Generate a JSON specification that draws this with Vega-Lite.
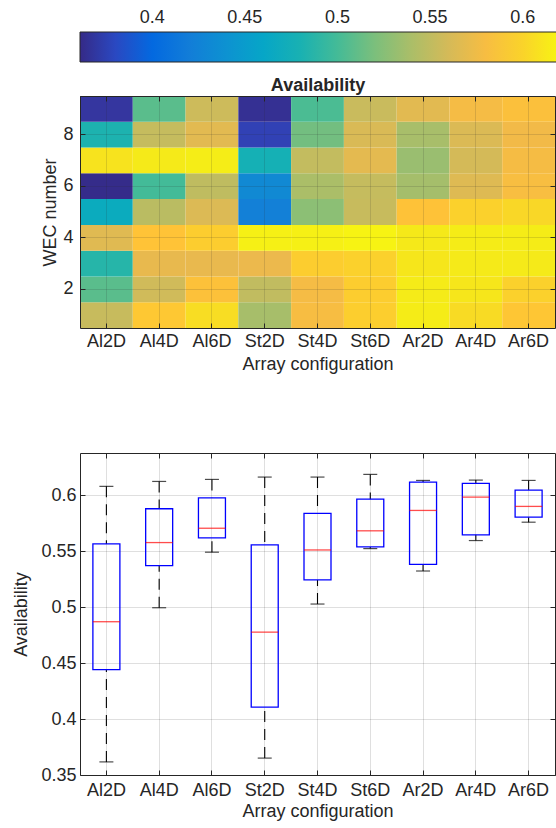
{
  "$schema": "https://vega.github.io/schema/vega-lite/v6.json",
  "padding": {"left": 12, "top": 32, "right": 0, "bottom": 5},
  "background": "white",
  "spacing": 79,
  "config": {
    "font": "Liberation Sans",
    "view": {"stroke": null},
    "axis": {
      "labelFont": "Liberation Sans", "titleFont": "Liberation Sans",
      "labelFontSize": 18, "titleFontSize": 18,
      "labelColor": "#262626", "titleColor": "#262626", "titleFontWeight": "normal",
      "domainColor": "#262626", "tickColor": "#262626", "domainWidth": 1, "tickWidth": 1,
      "gridColor": "#262626", "gridOpacity": 0.15, "gridWidth": 1
    }
  },
  "datasets": {
    "heat": [
      {"config": "Al2D", "wec": 1, "availability": 0.553}, {"config": "Al2D", "wec": 2, "availability": 0.508}, {"config": "Al2D", "wec": 3, "availability": 0.487},
      {"config": "Al2D", "wec": 4, "availability": 0.566}, {"config": "Al2D", "wec": 5, "availability": 0.469}, {"config": "Al2D", "wec": 6, "availability": 0.362},
      {"config": "Al2D", "wec": 7, "availability": 0.608}, {"config": "Al2D", "wec": 8, "availability": 0.482}, {"config": "Al2D", "wec": 9, "availability": 0.369},
      {"config": "Al4D", "wec": 1, "availability": 0.591}, {"config": "Al4D", "wec": 2, "availability": 0.5576}, {"config": "Al4D", "wec": 3, "availability": 0.570},
      {"config": "Al4D", "wec": 4, "availability": 0.587}, {"config": "Al4D", "wec": 5, "availability": 0.547}, {"config": "Al4D", "wec": 6, "availability": 0.4995},
      {"config": "Al4D", "wec": 7, "availability": 0.612}, {"config": "Al4D", "wec": 8, "availability": 0.552}, {"config": "Al4D", "wec": 9, "availability": 0.508},
      {"config": "Al6D", "wec": 1, "availability": 0.605}, {"config": "Al6D", "wec": 2, "availability": 0.585}, {"config": "Al6D", "wec": 3, "availability": 0.5704},
      {"config": "Al6D", "wec": 4, "availability": 0.595}, {"config": "Al6D", "wec": 5, "availability": 0.5637}, {"config": "Al6D", "wec": 6, "availability": 0.549},
      {"config": "Al6D", "wec": 7, "availability": 0.614}, {"config": "Al6D", "wec": 8, "availability": 0.567}, {"config": "Al6D", "wec": 9, "availability": 0.556},
      {"config": "St2D", "wec": 1, "availability": 0.538}, {"config": "St2D", "wec": 2, "availability": 0.550}, {"config": "St2D", "wec": 3, "availability": 0.572},
      {"config": "St2D", "wec": 4, "availability": 0.616}, {"config": "St2D", "wec": 5, "availability": 0.4225}, {"config": "St2D", "wec": 6, "availability": 0.432},
      {"config": "St2D", "wec": 7, "availability": 0.4776}, {"config": "St2D", "wec": 8, "availability": 0.376}, {"config": "St2D", "wec": 9, "availability": 0.365},
      {"config": "St4D", "wec": 1, "availability": 0.580}, {"config": "St4D", "wec": 2, "availability": 0.578}, {"config": "St4D", "wec": 3, "availability": 0.595},
      {"config": "St4D", "wec": 4, "availability": 0.616}, {"config": "St4D", "wec": 5, "availability": 0.5265}, {"config": "St4D", "wec": 6, "availability": 0.540},
      {"config": "St4D", "wec": 7, "availability": 0.551}, {"config": "St4D", "wec": 8, "availability": 0.517}, {"config": "St4D", "wec": 9, "availability": 0.5027},
      {"config": "St6D", "wec": 1, "availability": 0.596}, {"config": "St6D", "wec": 2, "availability": 0.595}, {"config": "St6D", "wec": 3, "availability": 0.598},
      {"config": "St6D", "wec": 4, "availability": 0.6185}, {"config": "St6D", "wec": 5, "availability": 0.553}, {"config": "St6D", "wec": 6, "availability": 0.5522},
      {"config": "St6D", "wec": 7, "availability": 0.5681}, {"config": "St6D", "wec": 8, "availability": 0.562}, {"config": "St6D", "wec": 9, "availability": 0.5539},
      {"config": "Ar2D", "wec": 1, "availability": 0.6131}, {"config": "Ar2D", "wec": 2, "availability": 0.6122}, {"config": "Ar2D", "wec": 3, "availability": 0.610},
      {"config": "Ar2D", "wec": 4, "availability": 0.6114}, {"config": "Ar2D", "wec": 5, "availability": 0.5863}, {"config": "Ar2D", "wec": 6, "availability": 0.537},
      {"config": "Ar2D", "wec": 7, "availability": 0.5322}, {"config": "Ar2D", "wec": 8, "availability": 0.5386}, {"config": "Ar2D", "wec": 9, "availability": 0.567},
      {"config": "Ar4D", "wec": 1, "availability": 0.604}, {"config": "Ar4D", "wec": 2, "availability": 0.610}, {"config": "Ar4D", "wec": 3, "availability": 0.6117},
      {"config": "Ar4D", "wec": 4, "availability": 0.6134}, {"config": "Ar4D", "wec": 5, "availability": 0.5982}, {"config": "Ar4D", "wec": 6, "availability": 0.565},
      {"config": "Ar4D", "wec": 7, "availability": 0.5594}, {"config": "Ar4D", "wec": 8, "availability": 0.563}, {"config": "Ar4D", "wec": 9, "availability": 0.578},
      {"config": "Ar6D", "wec": 1, "availability": 0.5899}, {"config": "Ar6D", "wec": 2, "availability": 0.598}, {"config": "Ar6D", "wec": 3, "availability": 0.612},
      {"config": "Ar6D", "wec": 4, "availability": 0.6131}, {"config": "Ar6D", "wec": 5, "availability": 0.602}, {"config": "Ar6D", "wec": 6, "availability": 0.581},
      {"config": "Ar6D", "wec": 7, "availability": 0.5785}, {"config": "Ar6D", "wec": 8, "availability": 0.5758}, {"config": "Ar6D", "wec": 9, "availability": 0.584}
    ],
    "box": [
      {"config": "Al2D", "lower": 0.3617, "q1": 0.4441, "median": 0.4869, "q3": 0.5564, "upper": 0.6078},
      {"config": "Al4D", "lower": 0.4994, "q1": 0.537, "median": 0.5576, "q3": 0.5878, "upper": 0.6122},
      {"config": "Al6D", "lower": 0.549, "q1": 0.5618, "median": 0.5704, "q3": 0.5976, "upper": 0.614},
      {"config": "St2D", "lower": 0.3651, "q1": 0.4107, "median": 0.4776, "q3": 0.5555, "upper": 0.6161},
      {"config": "St4D", "lower": 0.5027, "q1": 0.5242, "median": 0.551, "q3": 0.5836, "upper": 0.6161},
      {"config": "St6D", "lower": 0.5522, "q1": 0.5537, "median": 0.5681, "q3": 0.5964, "upper": 0.6185},
      {"config": "Ar2D", "lower": 0.5322, "q1": 0.5382, "median": 0.5863, "q3": 0.6116, "upper": 0.6131},
      {"config": "Ar4D", "lower": 0.5594, "q1": 0.5645, "median": 0.5982, "q3": 0.6104, "upper": 0.6134},
      {"config": "Ar6D", "lower": 0.5758, "q1": 0.5803, "median": 0.5899, "q3": 0.6045, "upper": 0.6131}
    ]
  },
  "vconcat": [
    {
      "width": 475,
      "height": 232,
      "data": {"name": "heat"},
      "layer": [
        {
          "mark": {"type": "rect"},
          "encoding": {
            "x": {
              "field": "config", "type": "nominal",
              "sort": ["Al2D", "Al4D", "Al6D", "St2D", "St4D", "St6D", "Ar2D", "Ar4D", "Ar6D"],
              "scale": {"paddingInner": 0, "paddingOuter": 0},
              "axis": {"orient": "bottom", "title": "Array configuration", "labelAngle": 0, "tickSize": -5, "labelPadding": 9,
                       "grid": true, "bandPosition": 0.5, "zindex": 1, "titleBaseline": "alphabetic", "titleY": 41}
            },
            "y": {
              "field": "wec", "type": "ordinal", "sort": "descending",
              "scale": {"paddingInner": 0, "paddingOuter": 0},
              "axis": {"orient": "left", "title": "WEC number", "values": [2, 4, 6, 8], "tickSize": -5, "labelPadding": 12,
                       "grid": true, "bandPosition": 0.5, "zindex": 1, "titleBaseline": "alphabetic", "titleX": -25}
            },
            "color": {
              "field": "availability", "type": "quantitative",
              "scale": {
                "type": "linear", "interpolate": "rgb",
                "domain": [0.361, 0.37357, 0.38614, 0.39871, 0.41129, 0.42386, 0.43643, 0.449, 0.46157, 0.47414, 0.48671, 0.49929, 0.51186, 0.52443, 0.537, 0.54957, 0.56214, 0.57471, 0.58729, 0.59986, 0.61243, 0.625],
                "range": ["#352a87", "#353dad", "#2053d4", "#0268e1", "#0d75dc", "#1481d6", "#108ed2", "#079ccf", "#06a7c6", "#0faeb9", "#25b5a9", "#42bb98", "#65be86", "#87bf77", "#a5be6b", "#c0bc60", "#d9ba56", "#f1b94a", "#ffc337", "#fad32a", "#f5eb18", "#f9fb0e"]
              },
              "legend": {
                "orient": "none", "legendX": 0, "legendY": -64, "direction": "horizontal",
                "gradientLength": 489, "gradientThickness": 30, "title": null,
                "values": [0.4, 0.45, 0.5, 0.55, 0.6], "format": "~g",
                "labelFont": "Liberation Sans", "labelFontSize": 18, "labelColor": "#262626",
                "labelOffset": -53, "labelOverlap": false,
                "gradientStrokeColor": "#262626", "gradientStrokeWidth": 1, "padding": 0
              }
            }
          }
        },
        {
          "mark": {"type": "rect", "opacity": 0},
          "encoding": {
            "x": {
              "field": "config", "type": "nominal",
              "sort": ["Al2D", "Al4D", "Al6D", "St2D", "St4D", "St6D", "Ar2D", "Ar4D", "Ar6D"],
              "axis": {"orient": "top", "labels": false, "tickSize": -5, "title": "Availability", "titleFontWeight": "bold",
                       "titleBaseline": "alphabetic", "titleY": -6, "grid": false, "bandPosition": 0.5, "zindex": 1}
            },
            "y": {
              "field": "wec", "type": "ordinal", "sort": "descending",
              "axis": {"orient": "right", "labels": false, "tickSize": -5, "title": null, "values": [2, 4, 6, 8],
                       "grid": false, "bandPosition": 0.5, "zindex": 1}
            }
          }
        }
      ],
      "resolve": {"axis": {"x": "independent", "y": "independent"}}
    },
    {
      "width": 475,
      "height": 322,
      "data": {"name": "box"},
      "layer": [
        {
          "mark": {"type": "rule", "color": "black", "strokeDash": [11, 7], "strokeWidth": 1.1},
          "encoding": {
            "x": {
              "field": "config", "type": "nominal",
              "sort": ["Al2D", "Al4D", "Al6D", "St2D", "St4D", "St6D", "Ar2D", "Ar4D", "Ar6D"],
              "scale": {"paddingInner": 0, "paddingOuter": 0},
              "axis": {"orient": "bottom", "title": "Array configuration", "labelAngle": 0, "tickSize": -5, "labelPadding": 11,
                       "grid": true, "bandPosition": 0.5, "titleBaseline": "alphabetic", "titleY": 41}
            },
            "y": {
              "field": "lower", "type": "quantitative",
              "scale": {"domain": [0.35, 0.6376], "nice": false, "zero": false},
              "axis": {"orient": "left", "title": "Availability", "values": [0.35, 0.4, 0.45, 0.5, 0.55, 0.6], "format": "~g",
                       "tickSize": -5, "labelPadding": 9, "grid": true, "titleBaseline": "alphabetic", "titleX": -54}
            },
            "y2": {"field": "q1"}
          }
        },
        {
          "mark": {"type": "rule", "color": "black", "strokeDash": [11, 7], "strokeWidth": 1.1},
          "encoding": {
            "x": {"field": "config", "type": "nominal", "sort": ["Al2D", "Al4D", "Al6D", "St2D", "St4D", "St6D", "Ar2D", "Ar4D", "Ar6D"], "axis": null},
            "y": {"field": "upper", "type": "quantitative", "axis": null},
            "y2": {"field": "q3"}
          }
        },
        {
          "mark": {"type": "tick", "color": "black", "size": 14, "thickness": 1.2},
          "encoding": {
            "x": {"field": "config", "type": "nominal", "sort": ["Al2D", "Al4D", "Al6D", "St2D", "St4D", "St6D", "Ar2D", "Ar4D", "Ar6D"], "axis": null},
            "y": {"field": "lower", "type": "quantitative", "axis": null}
          }
        },
        {
          "mark": {"type": "tick", "color": "black", "size": 14, "thickness": 1.2},
          "encoding": {
            "x": {"field": "config", "type": "nominal", "sort": ["Al2D", "Al4D", "Al6D", "St2D", "St4D", "St6D", "Ar2D", "Ar4D", "Ar6D"], "axis": null},
            "y": {"field": "upper", "type": "quantitative", "axis": null}
          }
        },
        {
          "mark": {"type": "bar", "size": 27, "fill": "white", "fillOpacity": 0, "stroke": "#0000ff", "strokeWidth": 1.3},
          "encoding": {
            "x": {"field": "config", "type": "nominal", "sort": ["Al2D", "Al4D", "Al6D", "St2D", "St4D", "St6D", "Ar2D", "Ar4D", "Ar6D"], "axis": null},
            "y": {"field": "q1", "type": "quantitative", "axis": null},
            "y2": {"field": "q3"}
          }
        },
        {
          "mark": {"type": "tick", "color": "#ff0000", "size": 27, "thickness": 1.3},
          "encoding": {
            "x": {"field": "config", "type": "nominal", "sort": ["Al2D", "Al4D", "Al6D", "St2D", "St4D", "St6D", "Ar2D", "Ar4D", "Ar6D"], "axis": null},
            "y": {"field": "median", "type": "quantitative", "axis": null}
          }
        },
        {
          "mark": {"type": "tick", "opacity": 0},
          "encoding": {
            "x": {
              "field": "config", "type": "nominal",
              "sort": ["Al2D", "Al4D", "Al6D", "St2D", "St4D", "St6D", "Ar2D", "Ar4D", "Ar6D"],
              "axis": {"orient": "top", "labels": false, "tickSize": -5, "title": null, "grid": false, "bandPosition": 0.5}
            },
            "y": {
              "field": "median", "type": "quantitative",
              "axis": {"orient": "right", "labels": false, "tickSize": -5, "title": null, "grid": false, "values": [0.35, 0.4, 0.45, 0.5, 0.55, 0.6]}
            }
          }
        }
      ],
      "resolve": {"axis": {"x": "independent", "y": "independent"}}
    }
  ]
}
